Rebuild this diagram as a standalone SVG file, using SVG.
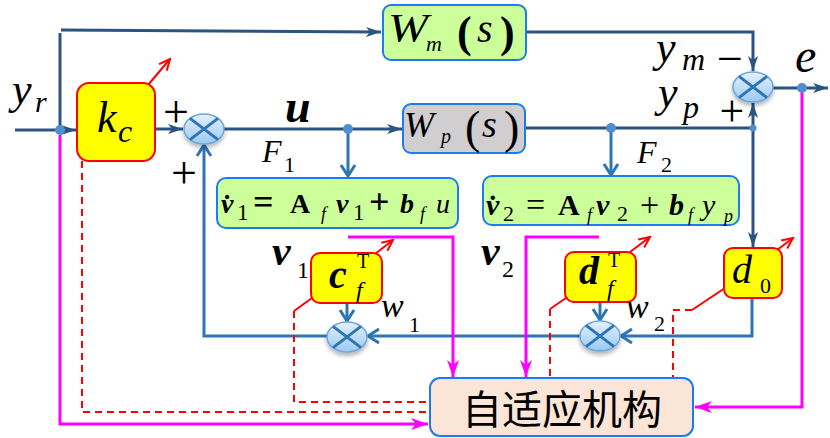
<svg xmlns="http://www.w3.org/2000/svg" width="830" height="438" viewBox="0 0 830 438">
<defs>
<style>
.ln{fill:none;stroke:#2b5580;stroke-width:3}
.lb{fill:none;stroke:#2e75b6;stroke-width:3}
.mg{fill:none;stroke:#ff00ff;stroke-width:3}
.rd{fill:none;stroke:#ff0000;stroke-width:2}
.rdd{fill:none;stroke:#ff0000;stroke-width:2;stroke-dasharray:7 5}
.gbox{fill:#ccff99;stroke:#1a7cf0;stroke-width:2}
.ybox{fill:#ffff00;stroke:#ff0000;stroke-width:2}
.dot{fill:#4f8fcf}
text{font-family:"Liberation Serif","DejaVu Serif",serif;fill:#000}
.i{font-style:italic}
.b{font-weight:bold}
.cjk{font-family:"Noto Sans CJK SC","Noto Sans",sans-serif}
</style>
<linearGradient id="sg" x1="0" y1="0" x2="0" y2="1">
<stop offset="0" stop-color="#e4f0fc"/>
<stop offset="1" stop-color="#9ccaf2"/>
</linearGradient>
<filter id="sh" x="-40%" y="-40%" width="180%" height="190%">
<feDropShadow dx="0" dy="3" stdDeviation="2" flood-color="#000" flood-opacity="0.3"/>
</filter>
<g id="sum">
<ellipse rx="20" ry="15" fill="url(#sg)" stroke="#6aa6dc" stroke-width="1.5" filter="url(#sh)"/>
<path d="M-14,-10.6 L14,10.6 M14,-10.6 L-14,10.6" stroke="#2e75b6" stroke-width="3" fill="none"/>
</g>
<marker id="ad" markerUnits="userSpaceOnUse" markerWidth="16" markerHeight="14" refX="15" refY="7" orient="auto">
<path d="M0,2 L15,7 L0,12 L4,7 z" fill="#2b5580"/>
</marker>
<marker id="al" markerUnits="userSpaceOnUse" markerWidth="16" markerHeight="18" refX="13" refY="9" orient="auto">
<path d="M2,2 L13,9 L2,16" fill="none" stroke="#2e75b6" stroke-width="3"/>
</marker>
<marker id="am" markerUnits="userSpaceOnUse" markerWidth="18" markerHeight="14" refX="17" refY="7" orient="auto">
<path d="M0,1 L17,7 L0,13 L5,7 z" fill="#ff00ff"/>
</marker>
<marker id="ar" markerUnits="userSpaceOnUse" markerWidth="14" markerHeight="12" refX="12" refY="6" orient="auto">
<path d="M1,1 L12,6 L1,11" fill="none" stroke="#ff0000" stroke-width="2"/>
</marker>
</defs>

<g id="connectors">
<path class="ln" d="M15,130 H76" marker-end="url(#ad)"/>
<path class="ln" d="M60,130 V33"/>
<path class="ln" d="M61,30 L381,32" marker-end="url(#ad)"/>
<path class="ln" d="M155,129 H183" marker-end="url(#ad)"/>
<path class="ln" d="M223,129 H402" marker-end="url(#ad)"/>
<path class="lb" d="M348,129 V176" marker-end="url(#al)"/>
<path class="ln" d="M525,128 H753"/>
<path class="lb" d="M611,128 V175" marker-end="url(#al)"/>
<path class="ln" d="M526,32 H753 V71" marker-end="url(#ad)"/>
<path class="ln" d="M753,128 V103" marker-end="url(#ad)"/>
<path class="ln" d="M753,128 V247" marker-end="url(#ad)"/>
<path class="ln" d="M773,88 H828" marker-end="url(#ad)"/>
<path class="lb" d="M327,336 H204 V145" marker-end="url(#al)"/>
<path class="lb" d="M580,336 H368" marker-end="url(#al)"/>
<path class="lb" d="M752,298 V336 H621" marker-end="url(#al)"/>
<path class="lb" d="M347,303 V321" marker-end="url(#al)"/>
<path class="lb" d="M600,302 V320" marker-end="url(#al)"/>
<path class="mg" d="M60,135 V424 H428" marker-end="url(#am)"/>
<path class="mg" d="M348,237 H453 V377" marker-end="url(#am)"/>
<path class="mg" d="M599,237 H526 V377" marker-end="url(#am)"/>
<path class="mg" d="M802,92 V407 H695" marker-end="url(#am)"/>
<path class="rd" d="M148,85 L170,59" marker-end="url(#ar)"/>
<path class="rd" d="M375,254 L393,240" marker-end="url(#ar)"/>
<path class="rd" d="M630,252 L650,237" marker-end="url(#ar)"/>
<path class="rd" d="M777,250 L793,238" marker-end="url(#ar)"/>
<path class="rd" d="M312,298 L294,311"/>
<path class="rdd" d="M294,311 V402 H430"/>
<path class="rdd" d="M82,161 V412 H430"/>
<path class="rd" d="M566,298 L550,309"/>
<path class="rdd" d="M550,309 V378"/>
<path class="rd" d="M725,288 L692,310"/>
<path class="rdd" d="M692,310 H673 V378"/>
<circle class="dot" cx="60" cy="130" r="5"/>
<circle class="dot" cx="348" cy="129" r="5"/>
<circle class="dot" cx="611" cy="128" r="5"/>
<circle class="dot" cx="753" cy="128" r="3.5"/>
<circle class="dot" cx="802" cy="88" r="5"/>
</g>

<g id="labels">
<text class="i" x="12" y="104" font-size="44">y</text>
<text class="i" x="35" y="112" font-size="30">r</text>
<text class="b i" x="285" y="122" font-size="46">u</text>
<text class="i" x="262" y="162" font-size="32">F</text>
<text x="284" y="172" font-size="22">1</text>
<text class="i" x="637" y="163" font-size="32">F</text>
<text x="661" y="172" font-size="22">2</text>
<text x="176" y="127" font-size="46" text-anchor="middle">+</text>
<text x="184" y="188" font-size="46" text-anchor="middle">+</text>
<text class="i" x="656" y="62" font-size="44">y</text>
<text class="i" x="682" y="70" font-size="32">m</text>
<text x="730" y="74" font-size="46" text-anchor="middle">−</text>
<text class="i" x="658" y="107" font-size="44">y</text>
<text class="i" x="683" y="118" font-size="32">p</text>
<text x="732" y="126" font-size="44" text-anchor="middle">+</text>
<text class="i" x="795" y="72" font-size="48">e</text>
<text class="b i" x="272" y="265" font-size="42">v</text>
<text x="297" y="278" font-size="24">1</text>
<text class="b i" x="481" y="265" font-size="42">v</text>
<text x="502" y="277" font-size="24">2</text>
<text class="i" x="381" y="317" font-size="34">w</text>
<text x="409" y="332" font-size="22">1</text>
<text class="i" x="626" y="318" font-size="34">w</text>
<text x="654" y="331" font-size="22">2</text>
</g>

<g id="kc">
<rect class="ybox" x="77" y="83" width="78" height="78" rx="12"/>
<text class="i" x="97" y="132" font-size="44">k</text>
<text class="i" x="118" y="142" font-size="32">c</text>
</g>

<g id="Wm">
<rect class="gbox" x="383" y="5" width="143" height="55" rx="8"/>
<text class="i" x="388" y="41" font-size="40" textLength="40" lengthAdjust="spacingAndGlyphs">W</text>
<text class="i" x="426" y="51" font-size="22">m</text>
<text class="b" x="457" y="47" font-size="44">(</text>
<text class="i" x="477" y="42" font-size="40">s</text>
<text class="b" x="500" y="47" font-size="44">)</text>
</g>

<g id="Wp">
<rect x="403" y="104" width="122" height="49" rx="8" fill="#d0cece" stroke="#1a7cf0" stroke-width="2"/>
<text class="i" x="404" y="137" font-size="36">W</text>
<text class="i" x="441" y="143" font-size="20">p</text>
<text x="465" y="143" font-size="46">(</text>
<text class="i" x="482" y="137" font-size="38">s</text>
<text x="504" y="143" font-size="46">)</text>
</g>

<g id="F1">
<rect class="gbox" x="217" y="178" width="241" height="50" rx="9"/>
<text font-size="28">
<tspan class="b i" x="221" y="213">v&#x307;</tspan>
<tspan x="237" y="220" font-size="23">1</tspan>
<tspan class="b" x="253" y="214" font-size="36">=</tspan>
<tspan class="b" x="290" y="213">A</tspan>
<tspan class="i" x="321" y="220" font-size="18">f</tspan>
<tspan class="b i" x="336" y="213">v</tspan>
<tspan x="353" y="220" font-size="23">1</tspan>
<tspan class="b" x="369" y="214" font-size="36">+</tspan>
<tspan class="b i" x="400" y="213">b</tspan>
<tspan class="i" x="420" y="220" font-size="18">f</tspan>
<tspan class="i" x="436" y="213">u</tspan>
</text>
</g>

<g id="F2">
<rect class="gbox" x="483" y="176" width="256" height="49" rx="9"/>
<text font-size="30">
<tspan class="b i" x="486" y="215">v&#x307;</tspan>
<tspan x="503" y="221" font-size="22">2</tspan>
<tspan x="526" y="216" font-size="34">=</tspan>
<tspan class="b" x="558" y="215">A</tspan>
<tspan class="i" x="587" y="221" font-size="18">f</tspan>
<tspan class="b i" x="596" y="215">v</tspan>
<tspan x="617" y="221" font-size="22">2</tspan>
<tspan x="640" y="216" font-size="34">+</tspan>
<tspan class="b i" x="669" y="215">b</tspan>
<tspan class="i" x="688" y="221" font-size="18">f</tspan>
<tspan class="i" x="702" y="215">y</tspan>
<tspan class="i" x="724" y="222" font-size="18">p</tspan>
</text>
</g>

<g id="cf">
<rect class="ybox" x="311" y="253" width="71" height="50" rx="9"/>
<text class="b i" x="329" y="288" font-size="40">c</text>
<text x="357" y="268" font-size="20">T</text>
<text class="i" x="356" y="298" font-size="24">f</text>
</g>

<g id="df">
<rect class="ybox" x="565" y="252" width="71" height="50" rx="9"/>
<text class="b i" x="579" y="284" font-size="40">d</text>
<text x="608" y="267" font-size="20">T</text>
<text class="i" x="607" y="296" font-size="24">f</text>
</g>

<g id="d0">
<rect class="ybox" x="724" y="248" width="58" height="50" rx="9"/>
<text class="i" x="732" y="283" font-size="40">d</text>
<text x="760" y="293" font-size="22">0</text>
</g>

<g id="sum1" transform="translate(204,129)"><use href="#sum"/></g>
<g id="sum2" transform="translate(753,87)"><use href="#sum"/></g>
<g id="sum3" transform="translate(347,337)"><use href="#sum"/></g>
<g id="sum4" transform="translate(600,336)"><use href="#sum"/></g>

<g id="adaptive">
<rect x="430" y="378" width="263" height="58" rx="10" fill="#fbe5d6" stroke="#1a7cf0" stroke-width="2"/>
<text class="cjk" x="562" y="424" font-size="40" text-anchor="middle">自适应机构</text>
</g>
</svg>
